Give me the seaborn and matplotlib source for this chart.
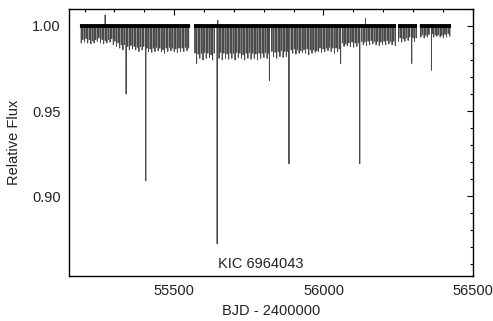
import numpy as np
import pandas as pd
import matplotlib
matplotlib.use("Agg")
import matplotlib.pyplot as plt
from matplotlib.ticker import MultipleLocator, FormatStrFormatter
import seaborn as sns

# Observing segments (start, end) in BJD - 2400000
segment_start = [55185.0, 55567.0, 56250.0, 56322.0]
segment_end = [55554.0, 56243.0, 56313.0, 56427.0]

# Primary eclipse minima: times and minimum relative flux
primary_time = [
    55189.0, 55199.7, 55210.5, 55221.2, 55231.9, 55242.7, 55253.4, 55264.1,
    55274.8, 55285.6, 55296.3, 55307.0, 55317.8, 55328.5, 55339.2, 55350.0,
    55360.7, 55371.4, 55382.1, 55392.9, 55405.0, 55414.3, 55425.1, 55435.8,
    55446.5, 55457.3, 55468.0, 55478.7, 55489.4, 55500.2, 55510.9, 55521.6,
    55532.4, 55543.1,
    55575.3, 55586.0, 55596.7, 55607.5, 55618.2, 55628.9, 55644.0, 55650.4,
    55661.1, 55671.9, 55682.6, 55693.3, 55704.0, 55714.8, 55725.5, 55736.2,
    55747.0, 55757.7, 55768.4, 55779.2, 55789.9, 55800.6, 55811.3, 55819.0,
    55832.8, 55843.5, 55854.3, 55865.0, 55875.7, 55884.5, 55897.2, 55907.9,
    55918.6, 55929.4, 55940.1, 55950.8, 55961.6, 55972.3, 55983.0, 55993.8,
    56004.5, 56015.2, 56025.9, 56036.7, 56047.4, 56057.5, 56068.9, 56079.6,
    56090.3, 56101.1, 56111.8, 56121.5, 56133.2, 56144.0, 56154.7, 56165.4,
    56176.2, 56186.9, 56197.6, 56208.4, 56219.1, 56229.8, 56240.5,
    56251.3, 56262.0, 56272.7, 56283.5, 56295.5, 56304.9,
    56326.4, 56337.1, 56347.8, 56361.5, 56369.3, 56380.0, 56390.8, 56401.5,
    56412.2, 56422.9,
]
primary_flux = [
    0.990, 0.9905, 0.990, 0.9895, 0.990, 0.991, 0.990, 0.9895,
    0.990, 0.9905, 0.989, 0.988, 0.987, 0.986, 0.960, 0.986,
    0.9865, 0.986, 0.985, 0.986, 0.909, 0.985, 0.9845, 0.985,
    0.9855, 0.985, 0.984, 0.985, 0.9855, 0.985, 0.9845, 0.985,
    0.985, 0.9855,
    0.978, 0.981, 0.980, 0.981, 0.9815, 0.980, 0.872, 0.981,
    0.980, 0.981, 0.9805, 0.981, 0.980, 0.9815, 0.981, 0.980,
    0.981, 0.9805, 0.981, 0.980, 0.981, 0.9815, 0.981, 0.968,
    0.982, 0.981, 0.982, 0.9815, 0.982, 0.919, 0.984, 0.9835,
    0.984, 0.9845, 0.984, 0.983, 0.984, 0.9845, 0.985, 0.9845,
    0.985, 0.9855, 0.985, 0.984, 0.985, 0.978, 0.988, 0.9885,
    0.988, 0.9875, 0.988, 0.919, 0.989, 0.9885, 0.989, 0.9895,
    0.989, 0.9885, 0.989, 0.989, 0.9895, 0.989, 0.9885,
    0.991, 0.9905, 0.991, 0.9915, 0.978, 0.991,
    0.9935, 0.993, 0.9935, 0.974, 0.9935, 0.994, 0.9935, 0.993,
    0.9935, 0.994,
]

# Secondary eclipse minima
secondary_time = [
    55194.4, 55205.1, 55215.9, 55226.6, 55237.3, 55248.1, 55258.8, 55269.5,
    55280.2, 55291.0, 55301.7, 55312.4, 55323.2, 55333.9, 55344.6, 55355.4,
    55366.1, 55376.8, 55387.5, 55398.3, 55409.0, 55419.7, 55430.5, 55441.2,
    55451.9, 55462.7, 55473.4, 55484.1, 55494.8, 55505.6, 55516.3, 55527.0,
    55537.8, 55548.5,
    55569.9, 55580.7, 55591.4, 55602.1, 55612.9, 55623.6, 55634.3, 55655.8,
    55666.5, 55677.3, 55688.0, 55698.7, 55709.4, 55720.2, 55730.9, 55741.6,
    55752.4, 55763.1, 55773.8, 55784.6, 55795.3, 55806.0, 55816.7, 55827.5,
    55838.2, 55848.9, 55859.7, 55870.4, 55881.1, 55891.9, 55902.6, 55913.3,
    55924.0, 55934.8, 55945.5, 55956.2, 55967.0, 55977.7, 55988.4, 55999.2,
    56009.9, 56020.6, 56031.3, 56042.1, 56052.8, 56063.5, 56074.3, 56085.0,
    56095.7, 56106.5, 56117.2, 56127.9, 56138.6, 56149.4, 56160.1, 56170.8,
    56181.6, 56192.3, 56203.0, 56213.8, 56224.5, 56235.2,
    56256.7, 56267.4, 56278.1, 56288.9, 56299.6, 56310.3,
    56331.8, 56342.5, 56353.2, 56364.0, 56374.7, 56385.4, 56396.2, 56406.9,
    56417.6,
]
secondary_flux = [
    0.992, 0.9925, 0.992, 0.9915, 0.992, 0.993, 0.992, 0.9915,
    0.992, 0.9925, 0.991, 0.990, 0.989, 0.989, 0.988, 0.9885,
    0.988, 0.9875, 0.988, 0.988, 0.987, 0.9865, 0.987, 0.9875,
    0.987, 0.986, 0.987, 0.9875, 0.987, 0.9865, 0.987, 0.987,
    0.9875, 0.987,
    0.984, 0.9835, 0.984, 0.9845, 0.984, 0.983, 0.984, 0.9845,
    0.984, 0.9835, 0.984, 0.984, 0.9845, 0.984, 0.983, 0.984,
    0.9845, 0.984, 0.9835, 0.984, 0.984, 0.9845, 0.984, 0.985,
    0.9845, 0.985, 0.9855, 0.985, 0.985, 0.986, 0.9865, 0.986,
    0.9855, 0.986, 0.9865, 0.986, 0.986, 0.9855, 0.987, 0.9865,
    0.987, 0.9875, 0.987, 0.987, 0.9865, 0.990, 0.9895, 0.990,
    0.9905, 0.990, 0.990, 0.991, 0.9905, 0.991, 0.9915, 0.991,
    0.991, 0.9905, 0.991, 0.9915, 0.991, 0.991,
    0.993, 0.9925, 0.993, 0.9935, 0.993, 0.993,
    0.995, 0.9945, 0.995, 0.9955, 0.995, 0.995, 0.9945, 0.995,
    0.9955,
]

# Brief upward excursions above the baseline
flare_time = [55269.0, 55646.0, 56141.0]
flare_flux = [1.0065, 1.0035, 1.0045]

# Build the light curve table: baseline at 1 with minima inserted
event_time = primary_time + secondary_time + flare_time
event_flux = primary_flux + secondary_flux + flare_flux
rows = []
for seg, (t0, t1) in enumerate(zip(segment_start, segment_end)):
    events = sorted((t, f) for t, f in zip(event_time, event_flux) if t0 <= t <= t1)
    rows.append((seg, t0, 1.0))
    for t, f in events:
        rows.append((seg, t - 0.2, 1.0))
        rows.append((seg, t, f))
        rows.append((seg, t + 0.2, 1.0))
    rows.append((seg, t1, 1.0))
lc = pd.DataFrame(rows, columns=["segment", "time", "flux"])

sns.set_theme(style="white")
plt.rcParams["font.family"] = ["Liberation Sans", "DejaVu Sans"]

fig = plt.figure(figsize=(4.93, 3.21), dpi=100)
ax = fig.add_axes([0.140, 0.140, 0.819, 0.832])

sns.lineplot(data=lc, x="time", y="flux", units="segment", estimator=None,
             sort=False, color="#4a4a4a", lw=0.65, ax=ax)
# thick baseline band
for t0, t1 in zip(segment_start, segment_end):
    ax.plot([t0, t1], [1.0, 1.0], color="black", lw=2.8, solid_capstyle="butt")

ax.set_xlim(55148, 56500)
ax.set_ylim(0.853, 1.010)
ax.xaxis.set_major_locator(MultipleLocator(500))
ax.xaxis.set_minor_locator(MultipleLocator(100))
ax.yaxis.set_major_locator(MultipleLocator(0.05))
ax.yaxis.set_minor_locator(MultipleLocator(0.01))
ax.yaxis.set_major_formatter(FormatStrFormatter("%.2f"))
ax.tick_params(which="both", direction="in", top=True, right=True,
               colors="black", labelcolor="#222222", labelsize=10.5, width=0.8)
ax.tick_params(which="major", length=4, pad=6)
ax.tick_params(which="minor", length=2.5)
for s in ax.spines.values():
    s.set_color("black")
    s.set_linewidth(1.0)

ax.set_xlabel("BJD - 2400000", fontsize=10.5, color="#222222", labelpad=4)
ax.set_ylabel("Relative Flux", fontsize=10.5, color="#222222", labelpad=8)
ax.text(0.475, 0.045, "KIC 6964043", transform=ax.transAxes, ha="center",
        va="center", fontsize=10.5, color="#222222")

fig.savefig("out.png", dpi=100, facecolor="white")
